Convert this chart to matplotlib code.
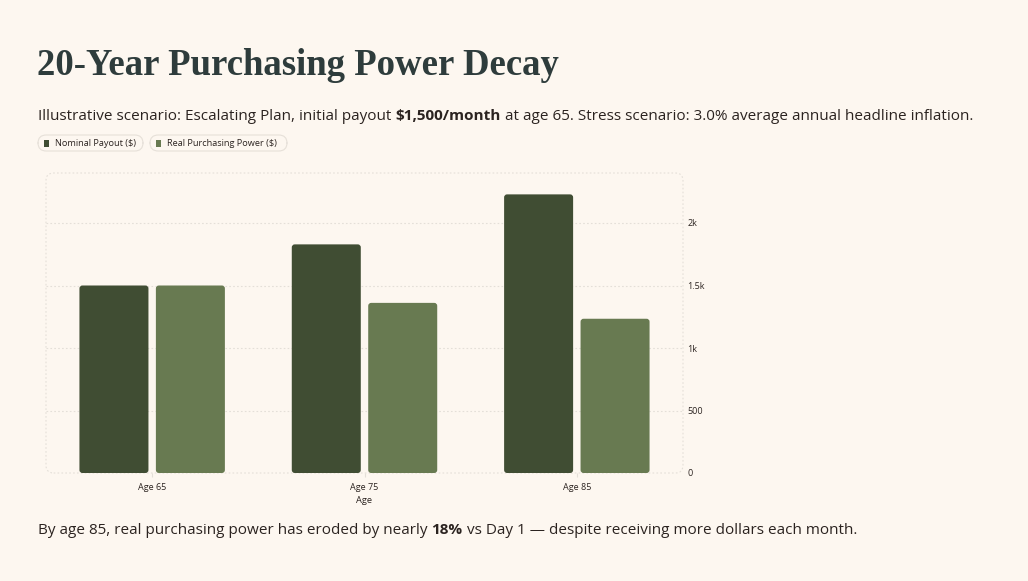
import numpy as np
import matplotlib
matplotlib.use("Agg")
import matplotlib.pyplot as plt
from matplotlib.patches import FancyBboxPatch, Rectangle

# data
categories = ["Age 65", "Age 75", "Age 85"]
nominal = [1500, 1829, 2229]
real = [1500, 1361, 1234]
series_names = ["Nominal Payout ($)", "Real Purchasing Power ($)"]
yticks = [0, 500, 1000, 1500, 2000]
ytick_labels = ["0", "500", "1k", "1.5k", "2k"]

BG = "#fdf7f0"
C_NOM = "#404d33"
C_REAL = "#687a51"
TXT = "#2b2320"
TITLE = "#2e3c3c"
GRID = "#e4dfd8"

W, H = 1028, 581
fig = plt.figure(figsize=(W / 100, H / 100), dpi=100, facecolor=BG)
SANS = ["Open Sans", "DejaVu Sans"]


def fx(px):
    return px / W


def fy(py):
    return 1 - py / H


def runs(x, y, parts, size, color=TXT):
    # draw text pieces one after another, some bold
    r = fig.canvas.get_renderer()
    for s, bold in parts:
        t = fig.text(x, y, s, fontsize=size, color=color, family=SANS,
                     fontweight="bold" if bold else "normal", va="baseline")
        bb = t.get_window_extent(renderer=r)
        x += bb.width / W


fig.text(fx(37), fy(75), "20-Year Purchasing Power Decay", fontsize=26.5,
         family=["Liberation Serif", "DejaVu Serif"], fontweight="bold",
         color=TITLE, va="baseline")

runs(fx(38), fy(120), [("Illustrative scenario: Escalating Plan, initial payout ", False),
                       ("$1,500/month", True),
                       (" at age 65. Stress scenario: 3.0% average annual headline inflation.", False)],
     11.0)

runs(fx(38), fy(534), [("By age 85, real purchasing power has eroded by nearly ", False),
                       ("18%", True),
                       (" vs Day 1 \u2014 despite receiving more dollars each month.", False)],
     11.0)

# legend pills
pills = [(38, 143, series_names[0], C_NOM), (150, 287, series_names[1], C_REAL)]
for x0, x1, label, col in pills:
    fig.patches.append(FancyBboxPatch((fx(x0), fy(151)), fx(x1 - x0), 16 / H,
                                      boxstyle="round,pad=0,rounding_size=0.008",
                                      mutation_aspect=W / H,
                                      transform=fig.transFigure, facecolor=BG,
                                      edgecolor="#e6e0d8", linewidth=0.8))
    fig.patches.append(Rectangle((fx(x0 + 6), fy(147)), fx(5), 7 / H,
                                 transform=fig.transFigure, facecolor=col))
    fig.text(fx(x0 + 17), fy(143), label, fontsize=6.6, color=TXT, family=SANS,
             va="center")

ax = fig.add_axes([fx(46), fy(473), fx(683 - 46), (473 - 173) / H])
ax.set_facecolor(BG)
x = np.arange(len(categories))
bw = 0.325
off = 0.18
b1 = ax.bar(x - off, nominal, bw, color=C_NOM)
b2 = ax.bar(x + off, real, bw, color=C_REAL)
ax.set_xlim(-0.5, 2.5)
ax.set_ylim(0, 2400)

# swap bars for rounded ones
px_x = 3 / 637.0
px_y = 2400 / 300.0
for bars, col in [(b1, C_NOM), (b2, C_REAL)]:
    for b in bars:
        b.set_visible(False)
        ax.add_patch(FancyBboxPatch((b.get_x(), b.get_y()), b.get_width(), b.get_height(),
                                    boxstyle="round,pad=0,rounding_size=%f" % (3 * px_x),
                                    mutation_aspect=px_y / px_x,
                                    facecolor=col, edgecolor="none"))

for v in yticks[1:]:
    ax.axhline(v, color=GRID, lw=0.8, ls=(0, (1.5, 2)), zorder=0)
ax.add_patch(FancyBboxPatch((0, 0), 1, 1, transform=ax.transAxes,
                            boxstyle="round,pad=0,rounding_size=0.012",
                            mutation_aspect=637 / 300.0,
                            facecolor="none", edgecolor=GRID, lw=0.8,
                            ls=(0, (1.5, 2)), clip_on=False, zorder=0))

for s in ax.spines.values():
    s.set_visible(False)
ax.yaxis.tick_right()
ax.set_yticks(yticks)
ax.set_yticklabels(ytick_labels)
ax.set_xticks(x)
ax.set_xticklabels(categories)
ax.tick_params(axis="y", length=0, pad=3, labelsize=6.5, labelcolor=TXT)
ax.tick_params(axis="x", length=3, color=GRID, pad=4, labelsize=6.5, labelcolor=TXT)
for lab in ax.get_xticklabels() + ax.get_yticklabels():
    lab.set_family(SANS)
ax.set_xlabel("Age", fontsize=6.7, color=TXT, family=SANS, labelpad=3)

fig.savefig("out.png", dpi=100, facecolor=BG)
